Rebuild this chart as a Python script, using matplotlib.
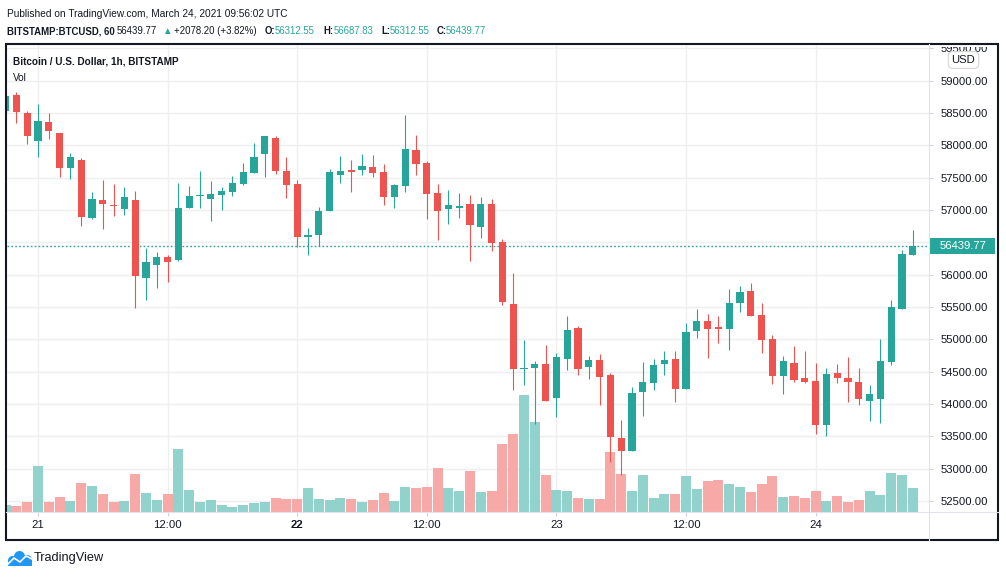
import numpy as np
import matplotlib
matplotlib.use("Agg")
import matplotlib.pyplot as plt
from matplotlib.patches import Rectangle, Circle
from matplotlib.ticker import FormatStrFormatter
from matplotlib.transforms import blended_transform_factory

plt.rcParams['font.family'] = ['Liberation Sans', 'DejaVu Sans']

## DATA: BITSTAMP BTCUSD 1h, hour offsets from Mar 21 00:00 UTC
hours = list(range(-3, 82))
opens = [58537, 58784, 58506, 58063, 58367, 58197, 57646, 57780, 56874, 57163,
         57070, 57013, 57163, 55948, 56149, 56267, 56226, 57029, 57214, 57178,
         57240, 57286, 57410, 57569, 57862, 58120, 57610, 57409, 56581, 56622,
         56982, 57548, 57626, 57626, 57672, 57595, 57209, 57379, 57934, 57734,
         57270, 57018, 57034, 57101, 56745, 57101, 56499, 55541, 54543, 54553,
         54615, 54090, 54692, 55171, 54569, 54677, 54445, 53472, 53272, 54183,
         54321, 54615, 54692, 54229, 55124, 55279, 55186, 55160, 55562, 55742,
         55371, 55000, 54434, 54630, 54398, 54352, 53678, 54476, 54398, 54337,
         54048, 54079, 54650, 55469, 56312.55]
highs = [58800, 58830, 58537, 58645, 58506, 58197, 57888, 57811, 57286, 57471,
         57410, 57363, 57301, 56406, 56344, 56298, 57425, 57379, 57610, 57456,
         57363, 57533, 57734, 58042, 58151, 58151, 57826, 57471, 56730, 57054,
         57641, 57842, 57780, 57873, 57857, 57718, 57409, 58475, 58166, 57765,
         57409, 57317, 57270, 57240, 57209, 57178, 56560, 56020, 54986, 54661,
         54908, 54785, 55356, 55202, 54738, 54769, 54476, 53750, 54260, 54646,
         54692, 54816, 54816, 55248, 55464, 55387, 55356, 55773, 55819, 55865,
         55556, 55062, 54738, 54893, 54815, 54630, 54553, 54615, 54723, 54553,
         54290, 55000, 55603, 56375, 56687.83]
lows = [58500, 58351, 58017, 57816, 58094, 57507, 57477, 56751, 56859, 56704,
        56905, 56921, 55485, 55608, 55793, 55886, 56210, 57029, 57039, 56838,
        57008, 57224, 57394, 57569, 57517, 57553, 57183, 56426, 56303, 56442,
        56982, 57425, 57286, 57548, 57517, 57085, 57039, 57286, 57548, 56869,
        56545, 56792, 56884, 56210, 56565, 56365, 55526, 54213, 54291, 53688,
        54044, 53797, 54522, 54445, 54383, 53982, 53102, 52901, 53272, 53812,
        54213, 54445, 54028, 54229, 55016, 54710, 54940, 54836, 55423, 55361,
        54790, 54311, 54157, 54342, 54326, 53539, 53508, 54326, 54033, 53987,
        53739, 53709, 54604, 55469, 56312.55]
closes = [58768, 58521, 58140, 58382, 58218, 57646, 57826, 56890, 57178, 57090,
          57060, 57209, 55979, 56190, 56267, 56195, 57039, 57224, 57240, 57255,
          57301, 57425, 57595, 57826, 58151, 57600, 57384, 56581, 56622, 56993,
          57595, 57610, 57595, 57687, 57579, 57209, 57394, 57950, 57718, 57255,
          56993, 57080, 57070, 56776, 57101, 56488, 55572, 54538, 54553, 54615,
          54044, 54723, 55140, 54538, 54677, 54414, 53488, 53272, 54167, 54337,
          54599, 54677, 54229, 55109, 55279, 55158, 55160, 55556, 55726, 55361,
          54990, 54434, 54661, 54373, 54342, 53678, 54460, 54404, 54342, 54079,
          54151, 54661, 55495, 56313, 56439.77]
volumes = [70, 60, 100, 460, 100, 150, 110, 290, 260, 180,
           100, 110, 380, 190, 120, 180, 630, 220, 100, 120,
           70, 50, 70, 90, 100, 140, 130, 130, 240, 130,
           120, 140, 130, 100, 120, 190, 110, 250, 240, 250,
           440, 240, 210, 410, 200, 210, 680, 780, 1170, 900,
           370, 220, 210, 140, 130, 130, 600, 380, 210, 370,
           140, 180, 180, 360, 230, 310, 320, 280, 250, 200,
           280, 360, 150, 160, 140, 210, 110, 160, 100, 120,
           210, 170, 390, 370, 240]

time_ticks = [0, 12, 24, 36, 48, 60, 72]
time_labels = ["21", "12:00", "22", "12:00", "23", "12:00", "24"]
price_ticks = list(range(52500, 60000, 500))
## END DATA

W, H = 1006, 577
UP, DOWN = "#26a69a", "#ef5350"
VOL_UP, VOL_DOWN = "#92d2cc", "#f7a9a7"
TXT = "#131722"
GRID = "#efefef"

x = np.array(hours)
o, h, l, c = (np.array(a, dtype=float) for a in (opens, highs, lows, closes))
up = c >= o
col = np.where(up, UP, DOWN)
vcol = np.where(up, VOL_UP, VOL_DOWN)

fig = plt.figure(figsize=(W / 100, H / 100), dpi=100)
rect = [7 / W, 1 - 512 / H, 922 / W, 468 / H]
axv = fig.add_axes(rect, zorder=1)
ax = fig.add_axes(rect, zorder=2)
ax.patch.set_visible(False)

xlim = (-2.87, 82.5)
ylim = (52330, 59569)

# volume (own scale, bottom layer) + grid under it
axv.bar(x, volumes, width=0.91, color=vcol, linewidth=0)
for t in time_ticks:
    axv.axvline(t, color=GRID, lw=1, zorder=0)
gtrans = blended_transform_factory(axv.transAxes, ax.transData)
for p in price_ticks:
    axv.plot([0, 1], [p, p], color=GRID, lw=1, transform=gtrans, zorder=0)
axv.set_xlim(xlim)
axv.set_ylim(0, 4680)
axv.axis("off")

# candles
ax.axhline(c[-1], color=UP, lw=1, linestyle=(0, (1.2, 1.6)), zorder=1)
ax.vlines(x, l, h, colors=col, lw=0.8, zorder=2)
ax.bar(x, np.maximum(np.abs(c - o), 12), bottom=np.minimum(o, c), width=0.65,
       color=col, linewidth=0, zorder=3)
ax.set_xlim(xlim)
ax.set_ylim(ylim)
for s in ax.spines.values():
    s.set_visible(False)

# price scale; the label under the last-price box is not shown
ax.yaxis.tick_right()
ax.set_yticks(price_ticks)
ax.yaxis.set_major_formatter(FormatStrFormatter("%.2f"))
ax.tick_params(axis="y", length=3, color="#d1d4dc", pad=5, labelsize=8.1, labelcolor=TXT)
for p, lbl in zip(price_ticks, ax.get_yticklabels()):
    if abs(p - c[-1]) < 200:
        lbl.set_visible(False)
ax.set_xticks(time_ticks)
ax.set_xticklabels(time_labels)
ax.tick_params(axis="x", length=3, color="#d1d4dc", pad=2.5, labelsize=8.2, labelcolor=TXT)
ax.get_xticklabels()[2].set_fontweight("bold")

# decorations in pixel coords
deco = fig.add_axes([0, 0, 1, 1], zorder=10)
deco.set_xlim(0, W)
deco.set_ylim(H, 0)
deco.axis("off")

# top price label is cut by the panel edge
deco.add_patch(Rectangle((930, 0), 67, 46.5, fc="white", ec="none"))
deco.plot([929, 929], [43.5, 540], color="#e0e3eb", lw=0.8)
deco.plot([6.5, 998], [512, 512], color="#e0e3eb", lw=0.8)
deco.add_patch(Rectangle((6.5, 43.5), 991.5, 496.5, fill=False, ec=TXT, lw=1.5))

# last price label
ypx = H - ax.transData.transform((0, c[-1]))[1]
deco.add_patch(Rectangle((929.5, ypx - 8), 66, 16, fc=UP, ec="none"))
deco.text(940, ypx, "%.2f" % c[-1], color="white", fontsize=8.1, va="center", ha="left")

deco.text(963.5, 60, "USD", color=TXT, fontsize=8.1, va="center", ha="center",
          bbox=dict(boxstyle="round,pad=0.3,rounding_size=0.4", fc="white", ec="#d6d6d6", lw=0.8))

# header
deco.text(7, 17, "Published on TradingView.com, March 24, 2021 09:56:02 UTC",
          color=TXT, fontsize=7.3, va="baseline")
fs2 = 6.9
chg = c[-1] - 54361.57
header = [
    (7, "BITSTAMP:BTCUSD, 60", TXT, "bold"),
    (117, "%.2f" % c[-1], TXT, "normal"),
    (162, "\u25b2", UP, "normal"),
    (174, "+%.2f (+%.2f%%)" % (chg, chg / 54361.57 * 100), TXT, "normal"),
    (265, "O:", TXT, "bold"),
    (275, "%.2f" % o[-1], UP, "normal"),
    (323, "H:", TXT, "bold"),
    (334, "%.2f" % h[-1], UP, "normal"),
    (381, "L:", TXT, "bold"),
    (390, "%.2f" % l[-1], UP, "normal"),
    (437, "C:", TXT, "bold"),
    (446, "%.2f" % c[-1], UP, "normal"),
]
for hx, s, color, weight in header:
    deco.text(hx, 34, s, color=color, fontsize=fs2, fontweight=weight, va="baseline")

deco.text(13, 65, "Bitcoin / U.S. Dollar, 1h, BITSTAMP", color=TXT, fontsize=7.2,
          fontweight="bold", va="baseline")
deco.text(13, 81, "Vol", color=TXT, fontsize=7.2, va="baseline")

# TradingView logo
blue = "#2196f3"
for cx, cy, r in [(12.5, 560.5, 4.5), (19.5, 556.5, 5.5), (27, 560, 5)]:
    deco.add_patch(Circle((cx, cy), r, fc=blue, ec="none"))
deco.add_patch(Rectangle((8, 560), 24, 5.5, fc=blue, ec="none"))
deco.plot([7, 14, 20, 26, 32], [565, 558, 562, 556, 559], color="white", lw=1.2,
          solid_capstyle="round")
deco.text(34, 558, "TradingView", color=TXT, fontsize=9.2, va="center")

plt.savefig("out.png", dpi=100)
